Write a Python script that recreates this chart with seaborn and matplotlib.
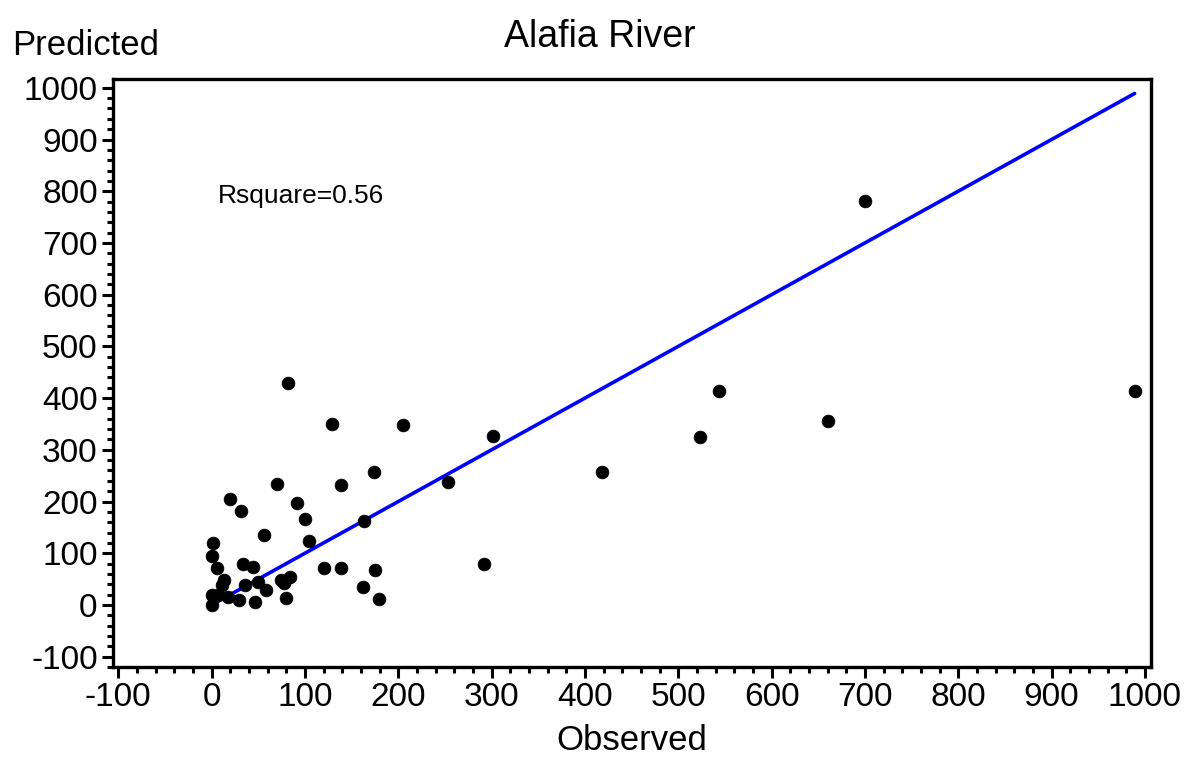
import matplotlib
matplotlib.use("Agg")
import matplotlib.pyplot as plt
import seaborn as sns
import pandas as pd
from matplotlib.ticker import MultipleLocator

observed = [82, 129, 205, 301, 70, 139, 174, 253, 20, 31, 92, 100, 163, 56, 104,
            2, 0, 6, 34, 44, 120, 139, 175, 292, 13, 11, 36, 50, 58, 74, 84, 78,
            0, 0, 7, 29, 46, 80, 18, 162, 179, 418, 523, 544, 660, 700, 989]
predicted = [429, 350, 347, 327, 234, 231, 257, 237, 204, 182, 197, 166, 162, 136, 124,
             120, 95, 71, 79, 73, 71, 71, 67, 80, 48, 39, 39, 45, 29, 48, 55, 42,
             19, 0, 19, 10, 6, 13, 16, 35, 11, 257, 324, 414, 355, 781, 414]
title = "Alafia River"
x_label = "Observed"
y_label = "Predicted"
annotation = "Rsquare=0.56"
x_ticks = list(range(-100, 1001, 100))
y_ticks = list(range(-100, 1001, 100))

df = pd.DataFrame({"Observed": observed, "Predicted": predicted})
line_df = pd.DataFrame({"x": [0, max(observed)], "y": [0, max(observed)]})

sns.set_style("ticks")
plt.rcParams["font.family"] = ["Liberation Sans", "DejaVu Sans"]
plt.rcParams["axes.unicode_minus"] = False
plt.rcParams["text.color"] = "black"
plt.rcParams["axes.labelcolor"] = "black"
plt.rcParams["xtick.color"] = "black"
plt.rcParams["ytick.color"] = "black"

fig = plt.figure(figsize=(11.88, 7.61), dpi=100)
ax = fig.add_axes([0.0951, 0.1235, 0.8738, 0.7727])

sns.lineplot(data=line_df, x="x", y="y", ax=ax, color="#0000ff", linewidth=2.6, zorder=3)
sns.scatterplot(data=df, x="Observed", y="Predicted", ax=ax, color="black", s=85,
                edgecolor="black", linewidth=0.5, zorder=4)

ax.set_xlim(-105.7, 1006.6)
ax.set_ylim(-120, 1017)
ax.set_xticks(x_ticks)
ax.set_yticks(y_ticks)
ax.xaxis.set_minor_locator(MultipleLocator(20))
ax.yaxis.set_minor_locator(MultipleLocator(20))
ax.tick_params(axis="both", which="major", labelsize=24, width=2.2, length=8,
               color="black", labelcolor="black", pad=3)
ax.tick_params(axis="both", which="minor", width=2.2, length=4.5, color="black")
for sp in ax.spines.values():
    sp.set_visible(True)
    sp.set_linewidth(2.4)
    sp.set_color("black")

ax.set_xlabel(x_label, fontsize=25, labelpad=8, color="black")
ax.set_ylabel("")
fig.text(0.01, 0.94, y_label, fontsize=25, ha="left", va="center", color="black")
fig.text(0.505, 0.952, title, fontsize=27, ha="center", va="center", color="black")
ax.text(7, 791, annotation, fontsize=19, ha="left", va="center", color="black")

fig.savefig("out.png", dpi=100)
